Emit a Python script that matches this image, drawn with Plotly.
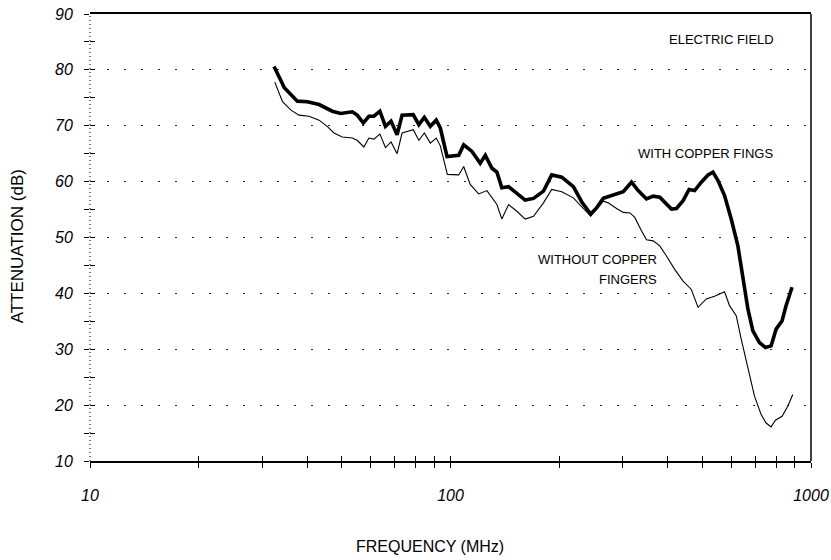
import plotly.graph_objects as go

# ---- data ----
freq_with = [32.4, 34.6, 37.6, 40.1, 43.2, 47.0, 49.6, 53.4, 55.1, 57.3, 59.4, 61.3, 63.7,
             66.0, 68.4, 71.1, 73.4, 78.8, 81.7, 84.6, 87.9, 91.3, 93.7, 97.8, 105.4, 108.8,
             114.7, 120.9, 124.9, 130.3, 134.5, 138.8, 144.9, 152.8, 161.1, 169.9, 181.1,
             190.9, 203.5, 219.2, 231.1, 244.8, 254.2, 265.3, 276.7, 288.8, 301.4, 317.8,
             331.6, 349.7, 364.9, 380.6, 397.2, 410.1, 423.4, 441.8, 459.0, 475.6, 496.3,
             517.9, 534.7, 552.0, 575.7, 600.8, 626.9, 647.3, 668.3, 689.9, 719.5, 747.5,
             775.1, 800.2, 831.4, 852.7, 886.0]
att_with = [80.6, 76.8, 74.4, 74.3, 73.8, 72.6, 72.2, 72.5, 71.9, 70.5, 71.7, 71.7, 72.6,
            69.9, 70.8, 68.4, 71.9, 72.0, 70.2, 71.5, 69.9, 71.0, 69.6, 64.5, 64.7, 66.6,
            65.4, 63.3, 64.7, 62.4, 61.7, 58.9, 59.1, 57.9, 56.7, 57.0, 58.3,
            61.2, 60.8, 59.1, 56.4, 54.2, 55.3, 57.0, 57.4, 57.8, 58.2, 59.9,
            58.4, 56.9, 57.4, 57.2, 56.0, 55.1, 55.2, 56.6, 58.6, 58.4, 59.9,
            61.2, 61.7, 60.2, 57.5, 53.3, 48.5, 43.1, 37.2, 33.3, 31.2, 30.3,
            30.6, 33.6, 35.1, 37.8, 41.1]

freq_without = [32.55, 34.2, 36.1, 38.0, 40.5, 43.2, 45.5, 47.5, 50.1, 53.4, 55.1, 57.5,
                59.4, 61.3, 63.7, 66.0, 68.4, 71.1, 73.4, 78.8, 81.7, 84.6, 87.9, 91.3,
                93.7, 96.0, 98.0, 105.4, 108.8, 113.4, 119.7, 126.2, 134.5, 138.8, 144.9,
                152.8, 161.1, 169.9, 181.1, 190.9, 203.5, 219.2, 233.6, 244.8, 265.3,
                273.9, 288.8, 301.4, 314.7, 324.5, 338.6, 349.7, 364.9, 380.6, 397.2,
                418.7, 441.8, 465.6, 486.0, 512.3, 540.2, 575.7, 594.3, 620.2, 640.4,
                668.3, 697.0, 727.3, 750.8, 775.1, 796.6, 831.4, 862.1, 890.1]
att_without = [77.8, 74.3, 72.8, 71.9, 71.7, 71.0, 69.9, 68.7, 68.0, 67.8, 67.4, 66.2,
               67.8, 67.6, 68.5, 66.1, 67.1, 65.0, 68.7, 69.3, 67.4, 68.7, 66.9, 67.8,
               66.4, 63.5, 61.3, 61.2, 62.7, 59.5, 57.8, 58.4, 55.9, 53.3, 55.9,
               54.7, 53.3, 53.8, 56.2, 58.6, 58.2, 57.1, 55.3, 53.8, 56.5,
               56.2, 55.2, 54.5, 54.4, 53.6, 51.2, 49.6, 49.4, 48.5, 46.7,
               44.3, 42.2, 40.7, 37.5, 39.0, 39.5, 40.3, 37.8, 36.0, 31.8,
               26.4, 21.6, 18.3, 16.8, 16.1, 17.3, 18.0, 19.8, 21.9]

x_all_ticks = [10, 20, 30, 40, 50, 60, 70, 80, 90, 100, 200, 300, 400, 500, 600, 700,
               800, 900, 1000]
x_tick_labels = ["10", "", "", "", "", "", "", "", "", "100", "", "", "", "", "",
                 "", "", "", "1000"]
y_grid_values = [20, 30, 40, 50, 60, 70, 80]
y_all_ticks = [10, 15, 20, 25, 30, 35, 40, 45, 50, 55, 60, 65, 70, 75, 80, 85, 90]
y_tick_labels = ["10", "", "20", "", "30", "", "40", "", "50", "", "60", "", "70", "",
                 "80", "", "90"]

FONT = "Liberation Sans, Arial, sans-serif"

fig = go.Figure()
fig.add_trace(go.Scatter(x=freq_without, y=att_without, mode="lines",
                         line=dict(color="black", width=1.1), showlegend=False,
                         hoverinfo="skip"))
fig.add_trace(go.Scatter(x=freq_with, y=att_with, mode="lines",
                         line=dict(color="black", width=3.6), showlegend=False,
                         hoverinfo="skip"))
# empty traces so the overlay axes (inner tick halves, grid) are drawn
fig.add_trace(go.Scatter(x=[], y=[], xaxis="x2", yaxis="y2", showlegend=False))
fig.add_trace(go.Scatter(x=[], y=[], yaxis="y3", showlegend=False))

tickfont = dict(family=FONT, size=16, style="italic", color="black")

fig.update_layout(
    width=831, height=560,
    margin=dict(l=90, r=20, t=14, b=99, autoexpand=False),
    paper_bgcolor="white", plot_bgcolor="white",
    xaxis=dict(type="log", range=[1, 3], tickvals=x_all_ticks, ticktext=x_tick_labels,
               ticks="outside", ticklen=5, tickwidth=1, tickcolor="black",
               showline=True, linecolor="black", linewidth=1.6, mirror=True,
               showgrid=False, zeroline=False, tickfont=tickfont,
               ticklabelstandoff=14, automargin=False),
    yaxis=dict(range=[10, 90], tickvals=y_all_ticks, ticktext=y_tick_labels,
               ticks="outside", ticklen=5, tickwidth=1, tickcolor="black",
               showline=False, showgrid=False, zeroline=False,
               tickfont=tickfont, ticklabelstandoff=8, automargin=False),
    xaxis2=dict(type="log", range=[1, 3], overlaying="x", anchor="y2", side="bottom",
                tickvals=x_all_ticks, ticks="inside", ticklen=5, tickcolor="black",
                showticklabels=False, showgrid=False, showline=False, zeroline=False,
                automargin=False),
    yaxis2=dict(range=[10, 90], overlaying="y", anchor="x2", side="left",
                tickvals=y_all_ticks, ticks="inside", ticklen=5, tickcolor="black",
                showticklabels=False, showline=False, zeroline=False, showgrid=False,
                automargin=False),
    yaxis3=dict(range=[10, 90], overlaying="y", anchor="x", side="left",
                tickvals=y_grid_values, ticks="", showticklabels=False,
                showline=False, zeroline=False, showgrid=True, gridcolor="#222",
                gridwidth=1, griddash="2px,15px", automargin=False),
)

# plot frame: dotted left edge, solid right edge
fig.add_shape(type="line", xref="paper", yref="paper", x0=0, x1=0, y0=0, y1=1,
              line=dict(color="black", width=1, dash="1px,3px"))
fig.add_shape(type="line", xref="paper", yref="paper", x0=1, x1=1, y0=0, y1=1,
              line=dict(color="black", width=1.5))

ann_font = dict(family=FONT, size=13, color="black")
fig.add_annotation(text="ELECTRIC FIELD", xref="paper", yref="paper", x=0.876, y=0.942,
                   showarrow=False, font=ann_font, xanchor="center", yanchor="middle")
fig.add_annotation(text="WITH COPPER FINGS", xref="paper", yref="paper", x=0.853, y=0.687,
                   showarrow=False, font=ann_font, xanchor="center", yanchor="middle")
fig.add_annotation(text="WITHOUT COPPER", xref="paper", yref="paper", x=0.789, y=0.450,
                   showarrow=False, font=ann_font, xanchor="right", yanchor="middle")
fig.add_annotation(text="FINGERS", xref="paper", yref="paper", x=0.789, y=0.407,
                   showarrow=False, font=ann_font, xanchor="right", yanchor="middle")

fig.add_annotation(text="FREQUENCY (MHz)", xref="paper", yref="paper", x=0.471, y=-0.192,
                   showarrow=False, font=dict(family=FONT, size=16, color="black"),
                   xanchor="center", yanchor="middle")
fig.add_annotation(text="ATTENUATION (dB)", xref="paper", yref="paper", x=-0.10, y=0.48,
                   showarrow=False, textangle=-90,
                   font=dict(family=FONT, size=17, color="black"),
                   xanchor="center", yanchor="middle")

fig.write_html("out.html",
               config={"displayModeBar": False},
               post_script="document.body.style.margin='0px';"
                           "document.body.style.overflow='hidden';")
